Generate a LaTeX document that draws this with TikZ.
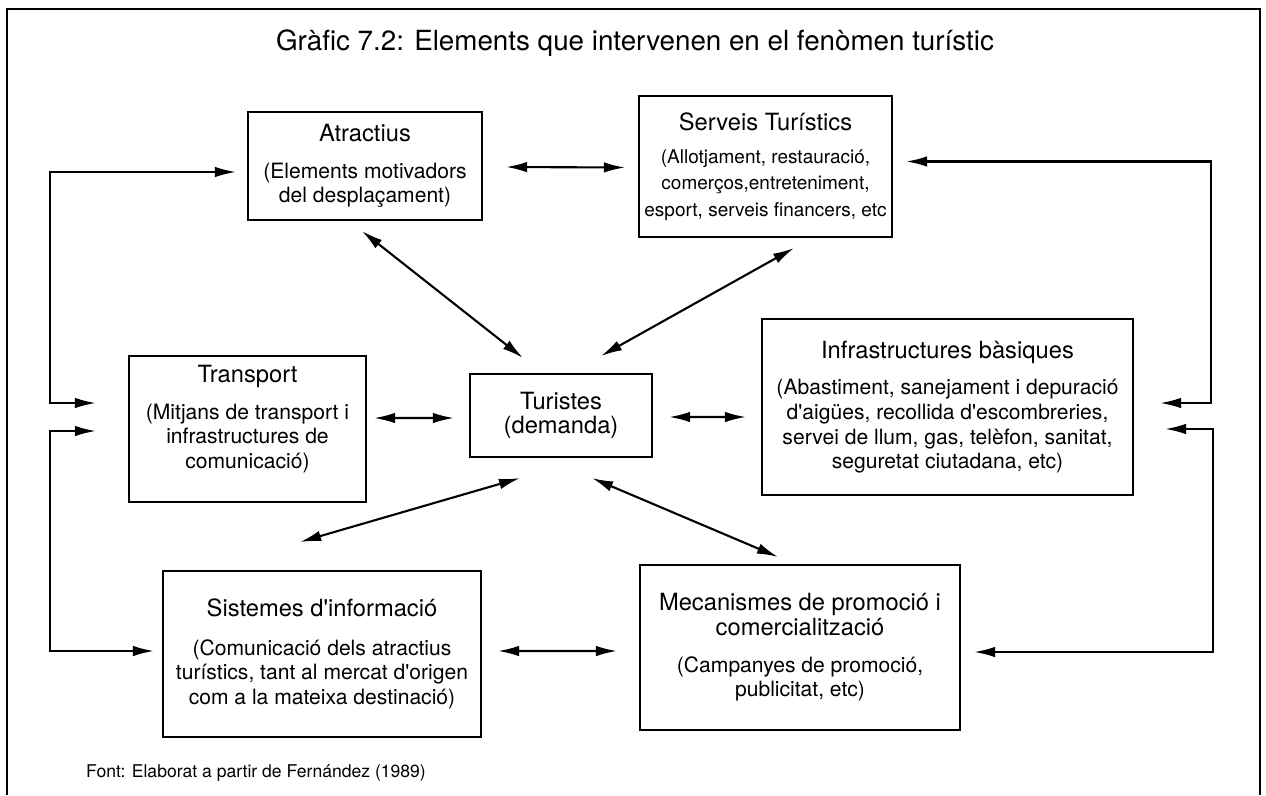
\documentclass[tikz,border=0pt]{standalone}
\usepackage{fontspec}
\setmainfont{TeX Gyre Heros}
\usetikzlibrary{arrows.meta,calc}
\newcommand{\hdr}[1]{{\fontsize{13.5}{16}\selectfont #1}}
\newcommand{\ap}{\textquotesingle}
\begin{document}
\begin{tikzpicture}[
    x=0.02cm, y=-0.02cm,
    every path/.style={>={Latex[length=12pt,width=6pt]}},
    blk/.style={draw, line width=1.2pt, inner sep=0pt, align=center, font=\fontsize{12}{14}\selectfont},
    lnk/.style={<->, line width=1.2pt}
    ]
    \useasboundingbox (0,0) rectangle (1266,795);

    % frame
    \draw[line width=1.2pt] (7,795) -- (7,9) -- (1260,9) -- (1260,795);
    \node[font=\fontsize{15.8}{19}\selectfont] (ttl) at (635,43) {Gràfic 7.2: Elements que intervenen en el fenòmen turístic};

    % nodes
    \node[blk, minimum width=4.68cm, minimum height=2.16cm] (atr) at (365,166)
        {\hdr{Atractius}\\[7pt](Elements motivadors\\del desplaçament)};
    \node[blk, minimum width=5.06cm, minimum height=2.82cm, font=\fontsize{10.8}{15}\selectfont] (serv) at (765.5,166.5)
        {\hdr{Serveis Turístics}\\[4pt](Allotjament, restauració,\\comerços,entreteniment,\\esport, serveis financers, etc};
    \node[blk, minimum width=4.74cm, minimum height=2.92cm] (trans) at (247.5,429)
        {\hdr{Transport}\\[7pt](Mitjans de transport i\\infrastructures de\\comunicació)\\\mbox{}};
    \node[blk, minimum width=3.64cm, minimum height=1.66cm] (tur) at (561,415.5)
        {\hdr{Turistes}\\\hdr{(demanda)}};
    \node[blk, minimum width=7.42cm, minimum height=3.52cm] (infra) at (947.5,407)
        {\hdr{Infrastructures bàsiques}\\[7pt](Abastiment, sanejament i depuració\\d\ap aigües, recollida d\ap escombreries,\\servei de llum, gas, telèfon, sanitat,\\seguretat ciutadana, etc)};
    \node[blk, minimum width=6.36cm, minimum height=3.32cm] (sist) at (322,654)
        {\hdr{Sistemes d\ap informació}\\[8pt](Comunicació dels atractius\\turístics, tant al mercat d\ap origen\\com a la mateixa destinació)};
    \node[blk, minimum width=6.40cm, minimum height=3.30cm] (mec) at (800,647.5)
        {\hdr{Mecanismes de promoció i}\\\hdr{comercialització}\\[7pt](Campanyes de promoció,\\publicitat, etc)};

    % edges
    \draw[lnk] ($(atr.east)+(23,1)$) -- ($(serv.west)+(-13,1)$);
    \draw[lnk] ($(atr.south)+(-3,10)$) -- ($(tur.north)+(-38,-15)$);
    \draw[lnk] ($(serv.south)+(28.5,10)$) -- ($(tur.north)+(40,-17)$);
    \draw[lnk] ($(trans.east)+(7,-11)$) -- ($(tur.west)+(-15,2.5)$);
    \draw[lnk] ($(tur.east)+(16,1.5)$) -- ($(infra.west)+(-15,10)$);
    \draw[lnk] ($(tur.south)+(-41,20)$) -- ($(sist.north)+(-22,-28)$);
    \draw[lnk] ($(tur.south)+(31,20)$) -- ($(mec.north)+(-22,-7)$);
    \draw[lnk] ($(sist.east)+(16,-3)$) -- ($(mec.west)+(-22,3.5)$);

    % outer loops
    \draw[lnk] ($(trans.west)+(-32,-26)$) -| ($(atr.west)+(-197,6)$) -- ($(atr.west)+(-11,6)$);
    \draw[lnk] ($(trans.west)+(-32,2)$) -| ($(sist.west)+(-112,-3)$) -- ($(sist.west)+(-8,-3)$);
    \draw[lnk] ($(serv.east)+(13,-5)$) -| ($(infra.east)+(77,-4)$) -- ($(infra.east)+(26,-4)$);
    \draw[lnk] ($(infra.east)+(31,22)$) -| ($(mec.east)+(252,4.5)$) -- ($(mec.east)+(13,4.5)$);

    \node[anchor=west, font=\fontsize{10}{12}\selectfont] (src) at (80,773) {Font: Elaborat a partir de Fernández (1989)};
\end{tikzpicture}
\end{document}
